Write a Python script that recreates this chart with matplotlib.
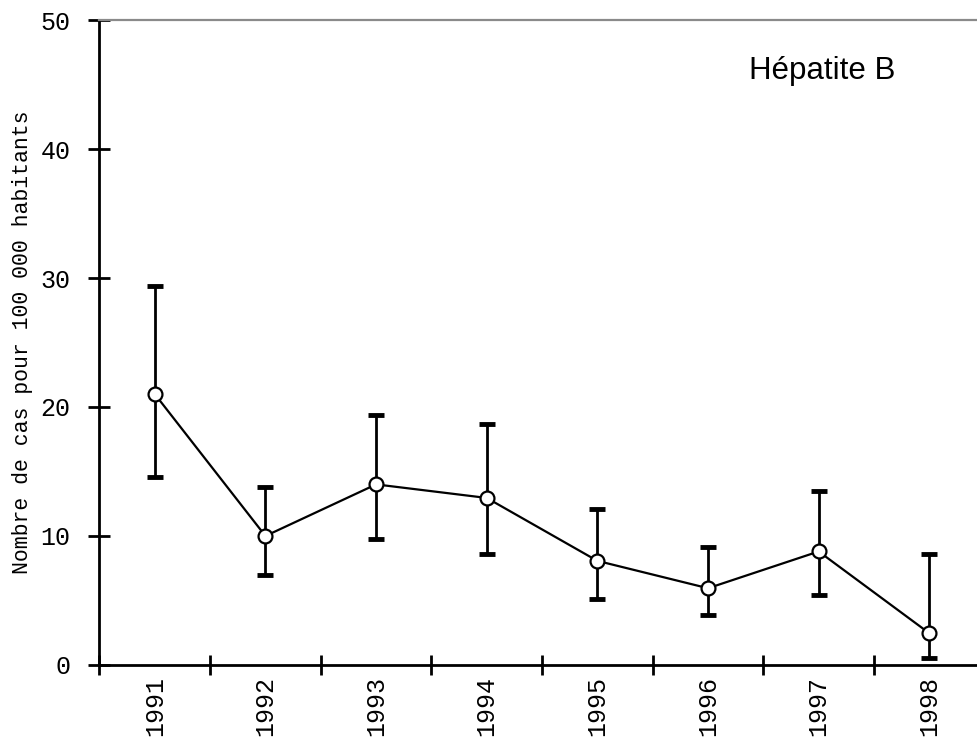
import numpy as np
import matplotlib
matplotlib.use("Agg")
import matplotlib.pyplot as plt

# data
years = ['1991', '1992', '1993', '1994', '1995', '1996', '1997', '1998']
rate = [21.0, 10.0, 14.0, 12.95, 8.07, 5.95, 8.8, 2.46]
upper = [29.4, 13.8, 19.4, 18.7, 12.1, 9.13, 13.5, 8.6]
lower = [14.56, 7.0, 9.8, 8.6, 5.1, 3.9, 5.45, 0.57]

mono = 'Liberation Mono'

fig = plt.figure(figsize=(9.78, 7.47), dpi=100)
ax = fig.add_axes([0.1017, 0.1098, 0.8983, 0.8634])

x = np.arange(len(years)) + 0.5
rate = np.array(rate)
yerr = [rate - np.array(lower), np.array(upper) - rate]

ax.errorbar(x, rate, yerr=yerr, fmt='none', ecolor='black', elinewidth=2,
            capsize=6, capthick=3.5, zorder=2)
ax.plot(x, rate, color='black', lw=1.6, marker='o', ms=10, mfc='white',
        mec='black', mew=1.6, zorder=3)

ax.set_xlim(0, 7.94)
ax.set_ylim(0, 50)

ax.set_xticks(np.arange(0, 8))
ax.set_xticklabels([])
ax.set_xticks(x, minor=True)
ax.set_xticklabels(years, minor=True, rotation=90, fontsize=18, family=mono)
ax.tick_params(axis='x', which='major', direction='inout', length=14, width=2)
ax.tick_params(axis='x', which='minor', length=0, pad=8)

ax.set_yticks([0, 10, 20, 30, 40, 50])
ax.set_yticklabels(['0', '10', '20', '30', '40', '50'], fontsize=18, family=mono)
ax.tick_params(axis='y', direction='inout', length=16, width=2, pad=13)

ax.set_ylabel('Nombre de cas pour 100 000 habitants', fontsize=15.5, family=mono,
              labelpad=5)

for s in ['left', 'bottom']:
    ax.spines[s].set_linewidth(2)
ax.spines['right'].set_visible(False)
ax.spines['top'].set_color('#8a8a8a')
ax.spines['top'].set_linewidth(1.6)

ax.text(0.739, 0.9085, 'Hépatite B', transform=ax.transAxes, fontsize=22.5,
        family='Liberation Sans', va='baseline', ha='left')

fig.savefig('out.png', dpi=100)
